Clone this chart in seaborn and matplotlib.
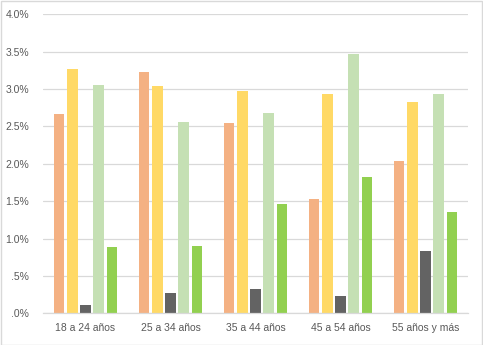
import matplotlib
matplotlib.use("Agg")
import matplotlib.pyplot as plt
import seaborn as sns
import pandas as pd
from matplotlib.patches import Rectangle
from matplotlib.ticker import FuncFormatter

categories = ["18 a 24 años", "25 a 34 años", "35 a 44 años", "45 a 54 años", "55 años y más"]
series_names = ["Serie 1", "Serie 2", "Serie 3", "Serie 4", "Serie 5"]
serie1 = [2.67, 3.23, 2.55, 1.53, 2.04]
serie2 = [3.27, 3.04, 2.97, 2.93, 2.83]
serie3 = [0.11, 0.27, 0.33, 0.235, 0.83]
serie4 = [3.05, 2.56, 2.68, 3.47, 2.93]
serie5 = [0.89, 0.90, 1.46, 1.82, 1.36]
colors = ["#F4B183", "#FFD966", "#636363", "#C5E0B4", "#92D050"]

rows = []
for name, vals in zip(series_names, [serie1, serie2, serie3, serie4, serie5]):
    for c, v in zip(categories, vals):
        rows.append({"cat": c, "serie": name, "val": v / 100})
df = pd.DataFrame(rows)

sns.set_theme(style="white")
plt.rcParams["font.family"] = ["Liberation Sans", "DejaVu Sans"]

fig = plt.figure(figsize=(4.83, 3.45), dpi=100)
ax = fig.add_axes([43 / 483, 1 - 313.3 / 345, (468 - 43) / 483, (313.3 - 14.3) / 345])

sns.barplot(data=df, x="cat", y="val", hue="serie", order=categories,
            hue_order=series_names, palette=colors, width=0.765, gap=0.23,
            saturation=1, legend=False, ax=ax, edgecolor="none", linewidth=0)

ax.set_ylim(0, 0.04)
ax.set_yticks([i * 0.005 for i in range(9)])
def fmt(v, pos):
    s = f"{v * 100:.1f}%"
    if s.startswith("0"):
        s = s[1:]
    return s
ax.yaxis.set_major_formatter(FuncFormatter(fmt))
ax.set_xlabel("")
ax.set_ylabel("")
ax.grid(axis="y", color="#D9D9D9", linewidth=0.9)
ax.set_axisbelow(True)
for s in ["top", "right", "left"]:
    ax.spines[s].set_visible(False)
ax.spines["bottom"].set_color("#D9D9D9")
ax.spines["bottom"].set_linewidth(0.9)
ax.tick_params(axis="both", length=0, labelsize=7.5, labelcolor="#595959")
ax.tick_params(axis="y", pad=10)
ax.tick_params(axis="x", pad=7)

fig.patches.append(Rectangle((0.5 / 483, 0.5 / 345), 481.5 / 483, 343.5 / 345,
                             transform=fig.transFigure, fill=False,
                             edgecolor="#D9D9D9", linewidth=1))

fig.savefig("out.png", dpi=100)
